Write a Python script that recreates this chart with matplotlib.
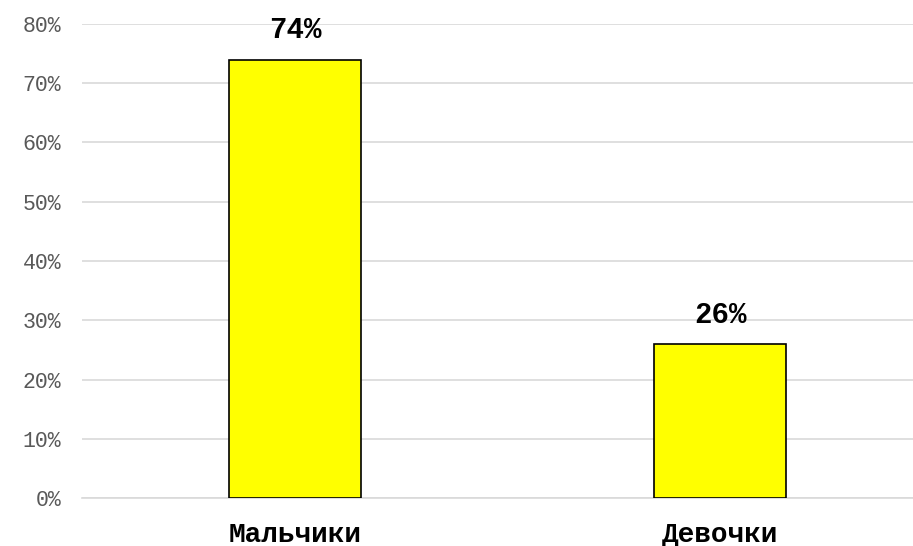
import matplotlib
matplotlib.use("Agg")
import matplotlib.pyplot as plt

categories = ["Мальчики", "Девочки"]
values = [74, 26]
yticks = [0, 10, 20, 30, 40, 50, 60, 70, 80]

fig = plt.figure(figsize=(9.13, 5.46), dpi=100)
left, right = 82 / 913, 1.0
bottom, top = 48 / 546, (546 - 24) / 546
ax = fig.add_axes([left, bottom, right - left, top - bottom])

xs = list(range(len(categories)))
ax.bar(xs, values, width=0.31, color="#FFFF00", edgecolor="#000000", linewidth=1.2, zorder=3)

ax.set_ylim(0, 80)
xmin = -213 / 425
ax.set_xlim(xmin, xmin + (913 - 82) / 425)
ax.set_yticks(yticks)
ax.set_yticklabels([f"{t}%" for t in yticks], family="Liberation Mono", fontsize=15.5, color="#595959")
ax.set_xticks(xs)
ax.set_xticklabels(categories, family="Liberation Mono", fontsize=20, fontweight="bold", color="#000000")
ax.tick_params(axis="both", length=0)
ax.tick_params(axis="y", pad=15)
ax.tick_params(axis="x", pad=17)
ax.grid(axis="y", color="#D9D9D9", linewidth=1.2, zorder=0)
for s in ["top", "right", "left"]:
    ax.spines[s].set_visible(False)
ax.spines["bottom"].set_color("#D9D9D9")
ax.spines["bottom"].set_linewidth(1.2)

for x, v in zip(xs, values):
    ax.text(x, v + 3.6, f"{v}%", ha="center", va="baseline", family="Liberation Mono",
            fontsize=21, fontweight="bold", color="#000000")

fig.savefig("out.png", dpi=100)
